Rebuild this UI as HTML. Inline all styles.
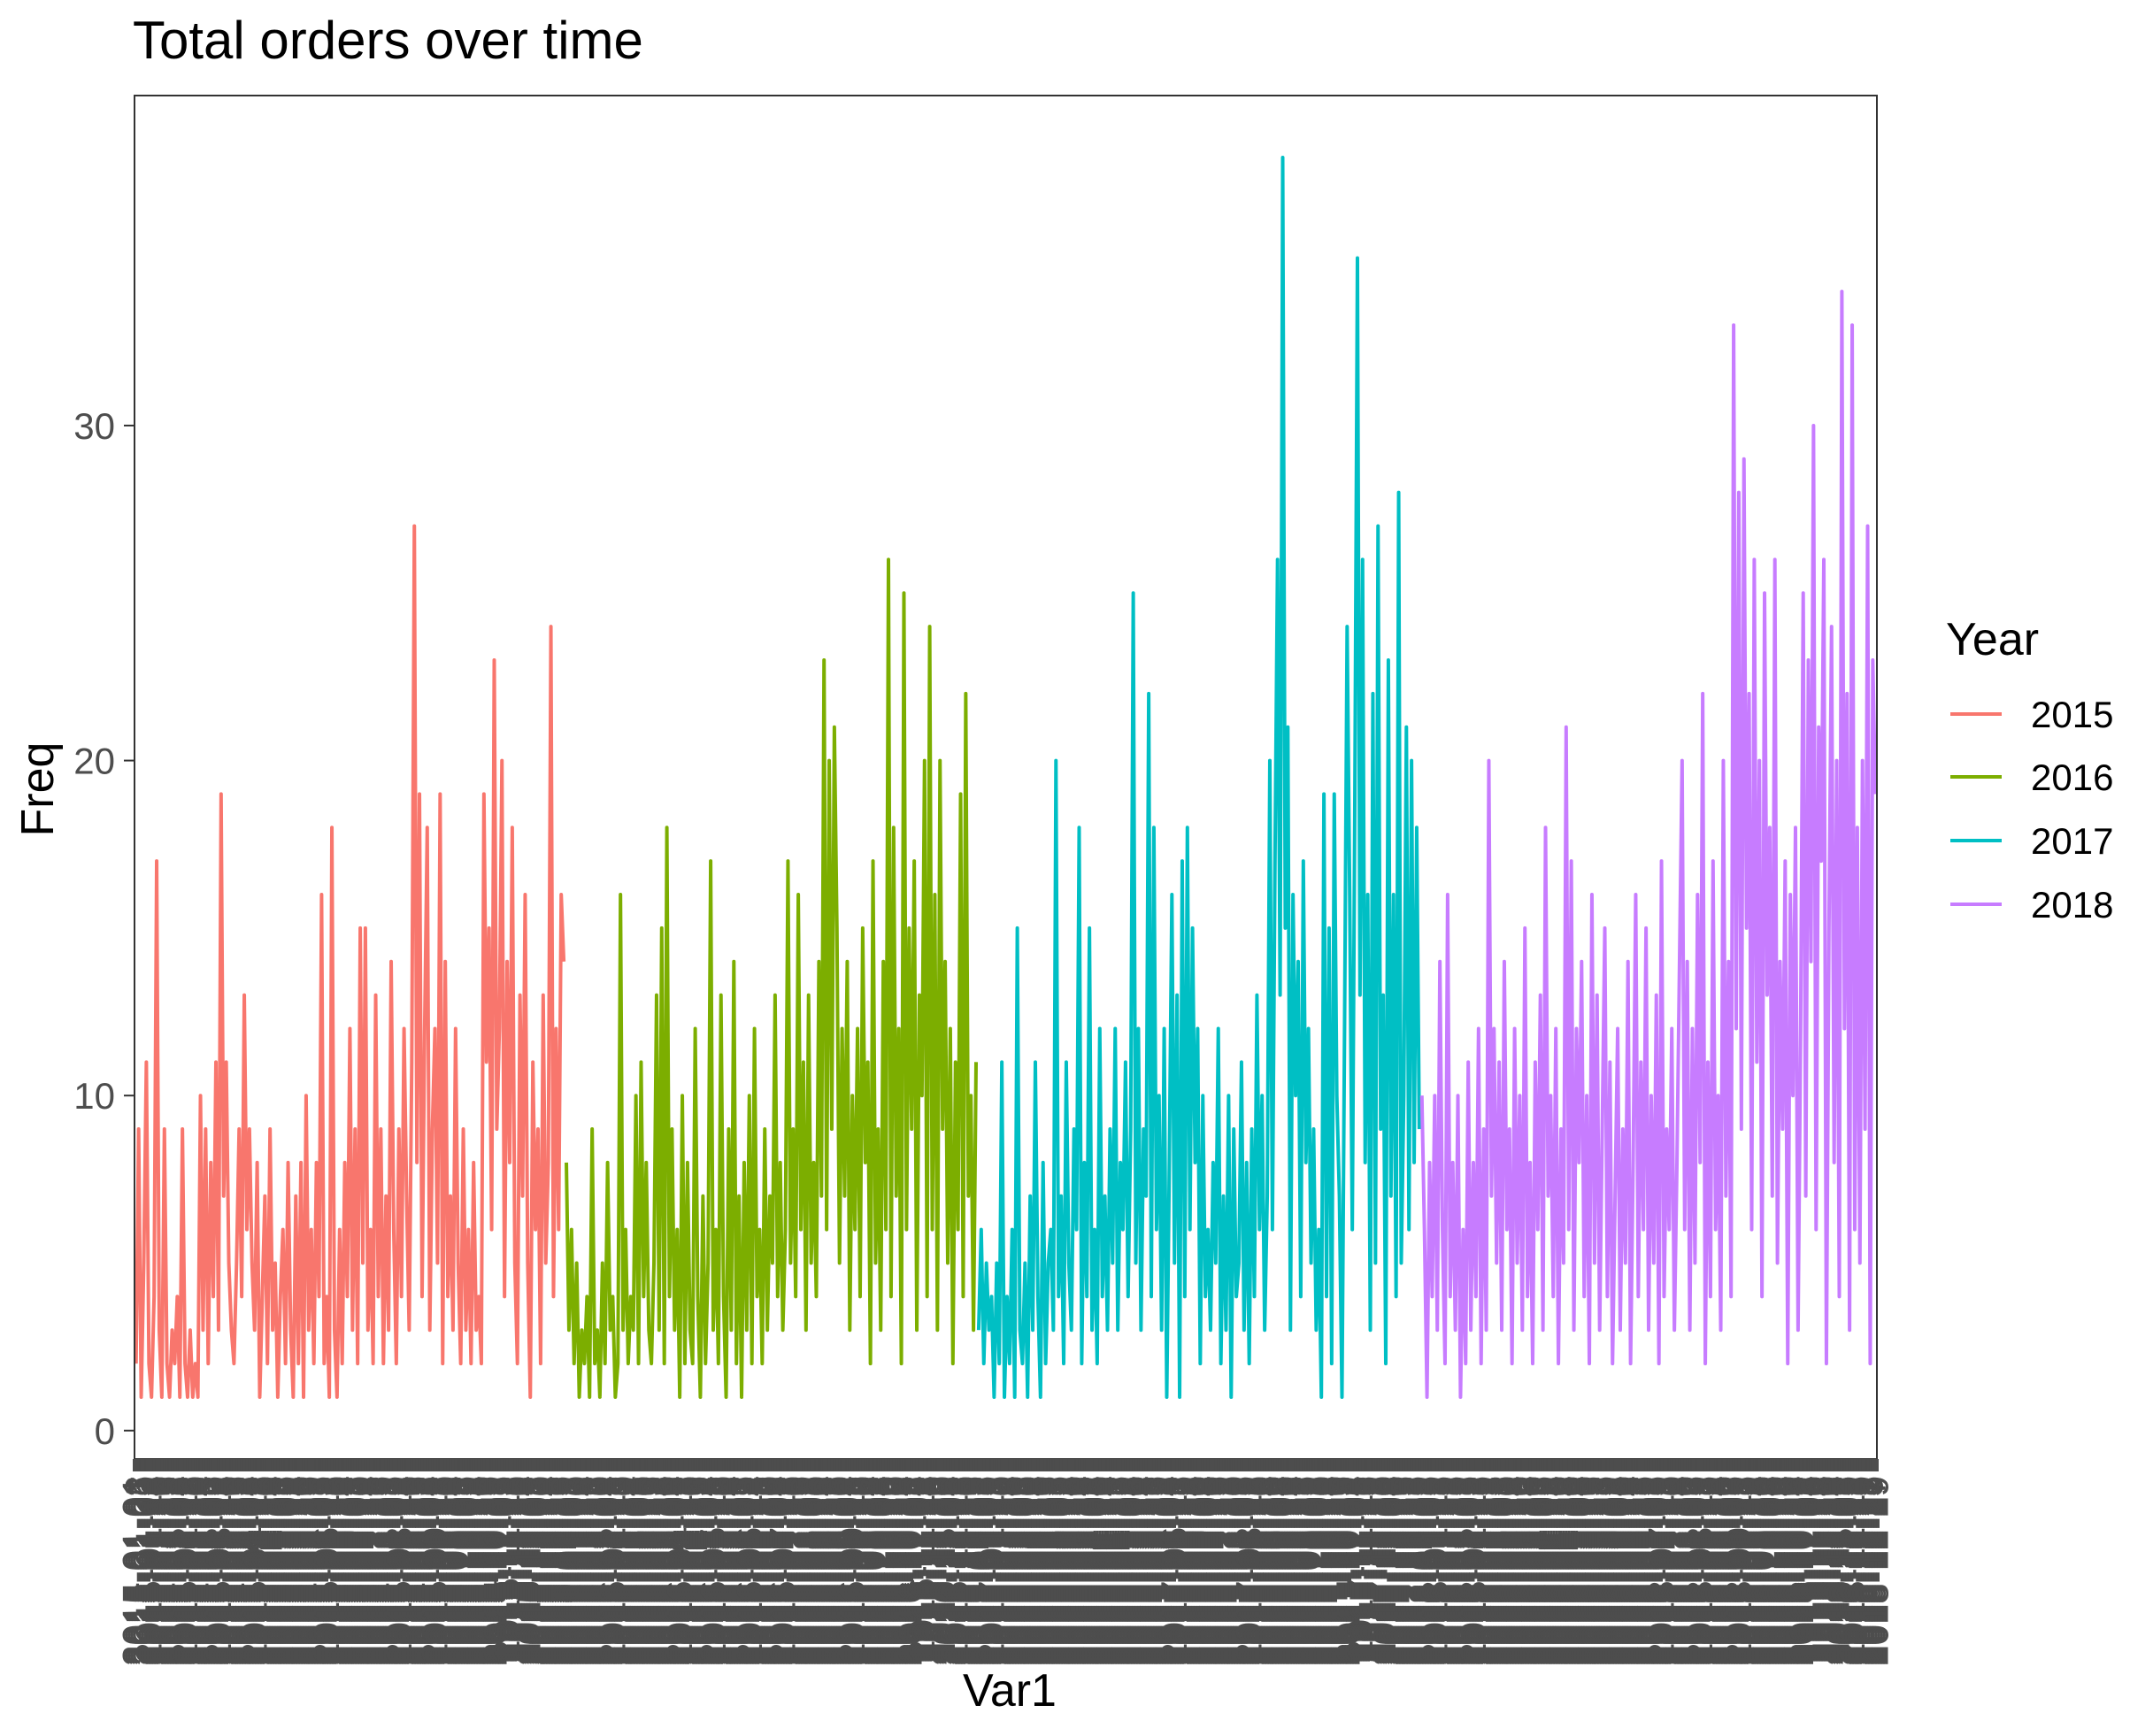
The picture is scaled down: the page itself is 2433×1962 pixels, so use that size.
<!DOCTYPE html>
<html><head><meta charset="utf-8"><style>
html,body{margin:0;padding:0;background:#fff;}
svg{display:block;font-family:"Liberation Sans",sans-serif;}
</style></head><body>
<svg id="chart" width="2433" height="1962" viewBox="0 0 2433 1962">
<text x="150" y="66" font-size="60" fill="#000">Total orders over time</text>
<g id="ylabels"></g>
<rect x="152" y="108" width="1969" height="1541" fill="#fff"/>
<g id="lines"></g>
<rect x="152" y="108" width="1969" height="1541" fill="none" stroke="#333" stroke-width="2"/>
<rect x="150" y="1649" width="1973" height="14" fill="#4d4d4d"/>
<g id="xticks"></g>
<g id="xlabels"></g>
<text x="1141" y="1928" font-size="52" text-anchor="middle" fill="#000">Var1</text>
<text transform="translate(60,892) rotate(-90)" font-size="52" text-anchor="middle" fill="#000">Freq</text>
<g>
<text x="2199" y="740" font-size="52" fill="#000">Year</text>
<g id="legendEntries"></g>
</g>
</svg>
<script>
const years = ["2015","2016","2017","2018"];
const colors = ["#F8766D","#7CAE00","#00BFC4","#C77CFF"];
const yTicks = [0,10,20,30];
const s2015 = [2,9,1,5,11,2,1,4,17,3,1,9,2,1,3,2,4,1,9,2,1,3,1,2,1,10,3,9,2,8,4,11,3,19,7,11,5,3,2,5,9,4,13,6,9,5,3,8,1,4,7,2,9,3,5,1,4,6,2,8,3,1,7,2,8,1,10,3,6,2,8,4,16,2,4,1,18,3,1,6,2,8,4,12,3,9,2,15,5,15,3,6,2,13,4,9,2,7,3,14,6,2,9,4,12,7,3,11,27,8,19,4,12,18,3,9,12,5,19,2,14,4,7,3,12,5,2,9,3,6,2,8,3,4,2,19,11,15,6,23,9,12,20,4,14,8,18,5,2,13,7,16,5,1,11,6,9,2,13,5,8,24,4,12,6,16,14];
const s2016 = [8,3,6,2,5,1,3,2,4,1,9,2,3,1,5,2,8,3,4,1,2,16,3,6,2,4,3,10,2,11,4,8,3,2,5,13,3,15,2,18,4,9,3,6,1,10,2,8,3,2,12,4,1,7,2,5,17,3,6,2,13,4,1,9,3,14,2,7,1,8,3,10,2,12,4,6,2,9,3,7,5,13,4,8,3,6,17,5,9,4,16,6,11,3,13,5,8,4,14,7,23,6,20,9,21,15,5,12,7,14,3,10,6,12,4,15,8,11,2,17,5,9,3,14,6,26,4,18,7,12,2,25,6,15,9,17,3,13,10,20,4,24,6,16,3,20,9,14,5,12,2,11,6,19,4,22,7,10,3,11];
const s2017 = [3,6,2,5,3,4,1,5,2,11,1,4,2,6,1,15,3,2,5,1,7,3,11,4,1,8,2,5,6,3,20,4,7,2,11,5,3,9,6,18,2,8,4,15,3,6,2,12,4,7,3,9,5,12,3,8,6,11,4,9,25,5,12,3,9,7,22,4,18,6,10,3,12,1,8,16,5,13,1,17,4,18,6,15,8,12,2,10,4,6,3,8,5,12,2,7,3,10,1,9,4,5,11,3,8,2,9,4,13,6,10,3,7,20,6,17,26,13,38,15,21,3,16,10,14,4,17,8,12,5,9,3,6,1,19,4,15,2,19,10,7,1,12,24,16,6,19,35,13,26,8,16,3,22,5,27,9,13,2,23,7,16,4,28,5,10,21,6,20,8,18,9];
const s2018 = [10,6,1,8,4,10,3,14,6,2,16,4,8,3,10,1,6,2,11,3,8,4,12,2,9,3,20,7,12,5,11,3,14,6,9,2,12,5,10,3,15,4,8,2,11,6,13,3,18,7,10,4,12,2,9,5,21,6,17,3,12,8,14,4,10,2,16,5,13,3,9,15,4,11,2,7,12,3,9,5,14,2,8,16,4,11,6,15,3,10,5,13,2,17,4,9,6,12,3,8,14,20,6,14,3,12,5,16,8,22,2,11,4,17,6,10,3,20,7,14,4,33,12,28,9,29,15,22,6,26,11,20,4,25,13,18,7,26,5,14,9,17,2,16,10,18,3,12,25,7,23,14,30,6,21,17,26,2,15,24,8,20,4,34,12,22,3,33,6,18,5,20,9,27,2,23,19];
const series = [s2015,s2016,s2017,s2018];

const NS = "http://www.w3.org/2000/svg";
const PL=152, PR=2121, PT=108, PB=1649;
let all=[]; series.forEach(s=>s.forEach(v=>all.push(v)));
const vmin=Math.min(...all), vmax=Math.max(...all);
const pad=(vmax-vmin)*0.05;
const ylo=vmin-pad, yhi=vmax+pad;
const N=all.length;
function yS(v){return PB-(v-ylo)/(yhi-ylo)*(PB-PT);}
function xS(i){return PL+(i+0.6)/(N-1+1.2)*(PR-PL);}

const yl=document.getElementById("ylabels");
yTicks.forEach(t=>{
  const y=yS(t);
  const ln=document.createElementNS(NS,"line");
  ln.setAttribute("x1",140);ln.setAttribute("x2",152);ln.setAttribute("y1",y);ln.setAttribute("y2",y);
  ln.setAttribute("stroke","#333");ln.setAttribute("stroke-width","2");
  
  
  yl.appendChild(ln);
  const tx=document.createElementNS(NS,"text");
  tx.setAttribute("x",130);tx.setAttribute("y",y+15);tx.setAttribute("text-anchor","end");
  tx.setAttribute("font-size","42");tx.setAttribute("fill","#4d4d4d");tx.textContent=t;
  
  
  yl.appendChild(tx);
});

const lg=document.getElementById("lines");
const xt=document.getElementById("xticks");
const xl=document.getElementById("xlabels");
const mdays=[31,28,31,30,31,30,31,31,30,31,30,31];
let idx=0;
series.forEach((s,k)=>{
  let pts=[];
  s.forEach((v,j)=>{
    const x=xS(idx);
    pts.push(x.toFixed(2)+","+yS(v).toFixed(2));
    const tk=document.createElementNS(NS,"line");
    tk.setAttribute("x1",x);tk.setAttribute("x2",x);tk.setAttribute("y1",PB);tk.setAttribute("y2",PB+13);
    tk.setAttribute("stroke","#4d4d4d");tk.setAttribute("stroke-width","2.5");
    
    
    xt.appendChild(tk);
    let doy=Math.floor(j*365/s.length), m=0;
    while(doy>=mdays[m]){doy-=mdays[m];m++;}
    const lab=years[k]+"-"+String(m+1).padStart(2,"0")+"-"+String(doy+1).padStart(2,"0");
    const tx=document.createElementNS(NS,"text");
    tx.setAttribute("transform","translate("+(x+14)+",1668) rotate(-90)");
    tx.setAttribute("text-anchor","end");tx.setAttribute("font-size","42");tx.setAttribute("fill","#4d4d4d");
    tx.textContent=lab;
    
    
    xl.appendChild(tx);
    idx++;
  });
  const pl=document.createElementNS(NS,"polyline");
  pl.setAttribute("points",pts.join(" "));
  pl.setAttribute("fill","none");pl.setAttribute("stroke",colors[k]);pl.setAttribute("stroke-width","4");
  pl.setAttribute("stroke-linejoin","round");
  
  
  lg.appendChild(pl);
});

const le=document.getElementById("legendEntries");
const legY=[807,878,950,1022];
years.forEach((y,k)=>{
  const ln=document.createElementNS(NS,"line");
  ln.setAttribute("x1",2204);ln.setAttribute("x2",2262);ln.setAttribute("y1",legY[k]);ln.setAttribute("y2",legY[k]);
  ln.setAttribute("stroke",colors[k]);ln.setAttribute("stroke-width","4");
  
  
  le.appendChild(ln);
  const tx=document.createElementNS(NS,"text");
  tx.setAttribute("x",2295);tx.setAttribute("y",legY[k]+15);tx.setAttribute("font-size","42");tx.setAttribute("fill","#000");
  tx.textContent=y;
  
  
  le.appendChild(tx);
});
</script>
</body></html>
